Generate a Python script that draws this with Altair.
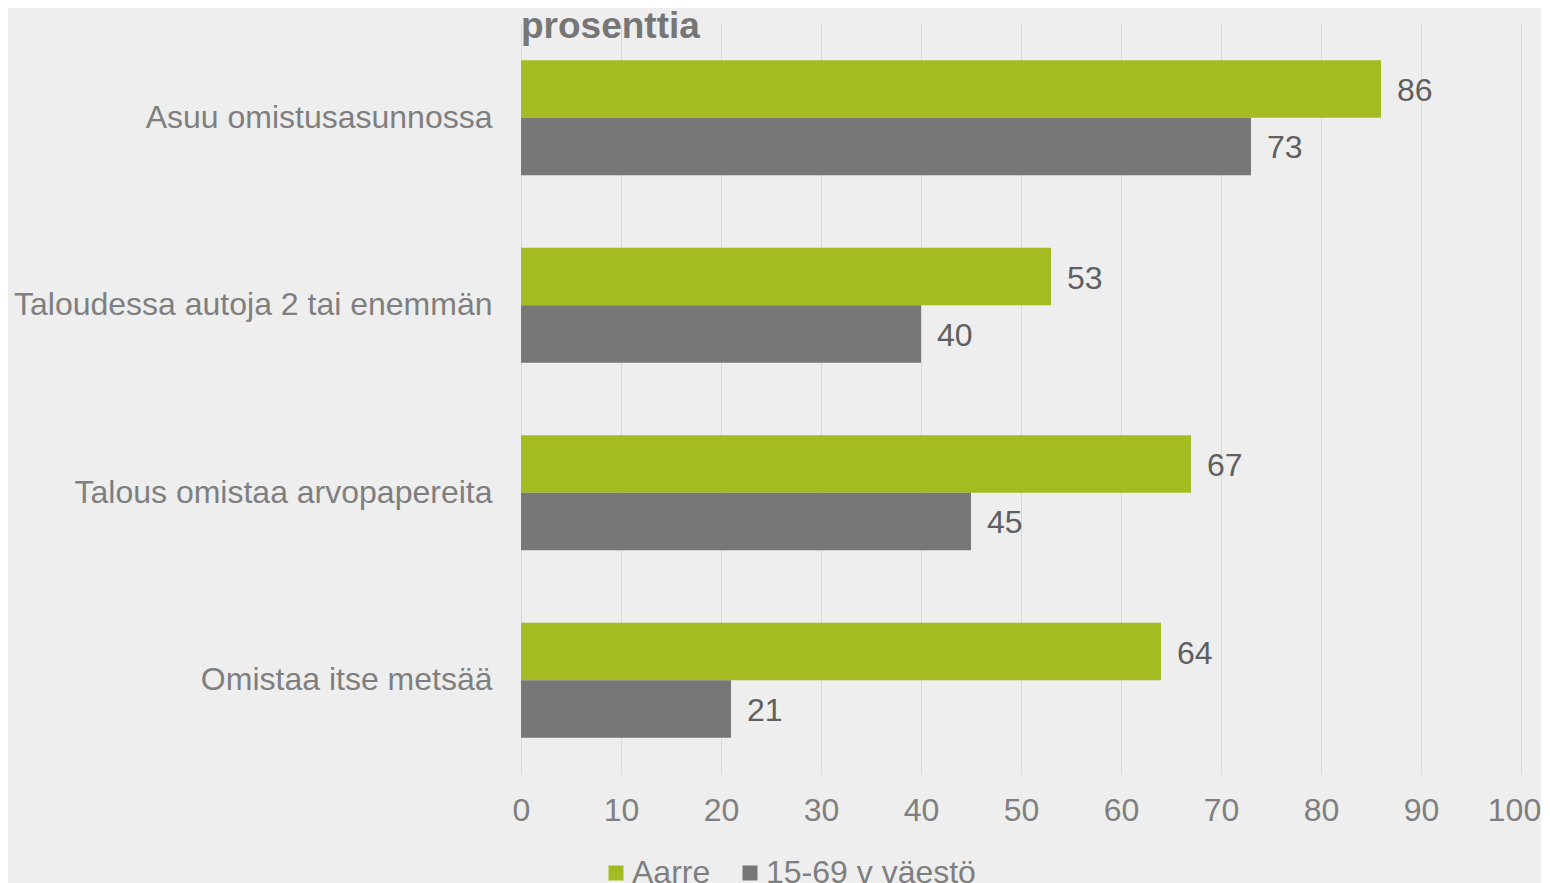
import altair as alt
import pandas as pd

categories = ["Asuu omistusasunnossa", "Taloudessa autoja 2 tai enemmän",
              "Talous omistaa arvopapereita", "Omistaa itse metsää"]
series = ["Aarre", "15-69 v väestö"]
aarre = [86, 53, 67, 64]
vaesto = [73, 40, 45, 21]
x_ticks = list(range(0, 101, 10))
colors = ["#A5BB22", "#777777"]
title_text = ["prosenttia"]

rows = []
for c, a, v in zip(categories, aarre, vaesto):
    rows.append({"category": c, "series": series[0], "value": a})
    rows.append({"category": c, "series": series[1], "value": v})
df = pd.DataFrame(rows)

FONT = "Liberation Sans"

y_enc = alt.Y("category:N", sort=categories, title=None,
              scale=alt.Scale(paddingInner=0.387, paddingOuter=0.1935),
              axis=alt.Axis(labelFontSize=32, labelColor="#7F7F7F", labelFont=FONT,
                            labelPadding=29, ticks=False, domain=False, grid=False,
                            labelLimit=800))
yoff = alt.YOffset("series:N", sort=series,
                   scale=alt.Scale(paddingInner=0, paddingOuter=0))
x_enc = alt.X("value:Q", title=None, scale=alt.Scale(domain=[0, 100]),
              axis=alt.Axis(values=x_ticks, grid=True, gridColor="#D9D9D9",
                            domain=False, ticks=False, labelFontSize=32,
                            labelColor="#7F7F7F", labelFont=FONT, labelPadding=21,
                            labelFlush=False, labelOverlap=False,
                            labelOffset={"condition": {"test": "datum.value == 100", "value": -7},
                                         "value": 0}))

base = alt.Chart(df)
bars = base.mark_bar().encode(
    y=y_enc, yOffset=yoff, x=x_enc,
    color=alt.Color("series:N", sort=series,
                    scale=alt.Scale(domain=series, range=colors),
                    legend=alt.Legend(title=None, orient="none", direction="horizontal",
                                      legendX=79, legendY=833, padding=0,
                                      symbolType="square", symbolSize=225,
                                      symbolStrokeWidth=0, labelFontSize=32,
                                      labelFont=FONT, labelColor="#7F7F7F",
                                      labelOffset=0, columnPadding=23,
                                      labelLimit=600))
)
labels = base.mark_text(align="left", baseline="middle", dx=16, dy=2, fontSize=32,
                        font=FONT, color="#5F5F5F").encode(
    y=alt.Y("category:N", sort=categories), yOffset=yoff,
    x="value:Q", text="value:Q"
)
title = alt.Chart(pd.DataFrame({"t": title_text})).mark_text(
    align="left", baseline="alphabetic", fontSize=37, fontWeight="bold",
    font=FONT, color="#767676"
).encode(x=alt.value(0), y=alt.value(14), text="t:N")

chart = alt.layer(bars, labels, title).properties(
    width=1000, height=750,
    autosize=alt.AutoSizeParams(type="none"),
    padding={"left": 513, "top": 16, "right": 20, "bottom": 120},
    background="#EEEEEE"
).configure_view(stroke=None)

chart.save("out.html", embed_options={"renderer": "svg", "actions": False})
